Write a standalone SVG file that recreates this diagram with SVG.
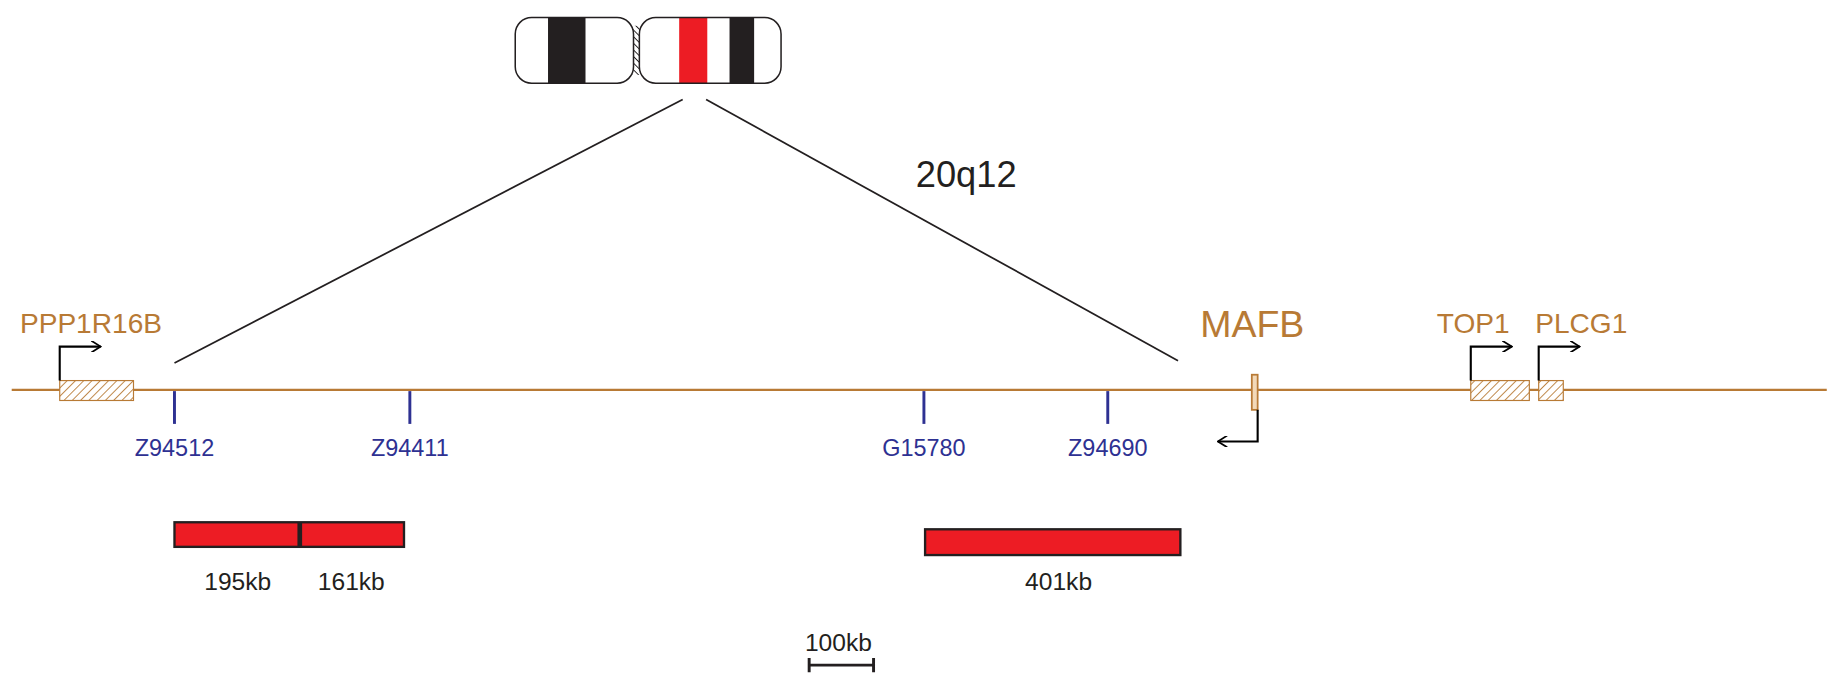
<svg xmlns="http://www.w3.org/2000/svg" width="1833" height="682" viewBox="0 0 1833 682">
<defs>
<pattern id="h" width="5" height="5" patternUnits="userSpaceOnUse" patternTransform="rotate(45)"><rect width="5" height="5" fill="#fff"/><line x1="0" y1="0" x2="0" y2="5" stroke="#b87a35" stroke-width="1.5"/></pattern>
<pattern id="hk" width="4" height="4" patternUnits="userSpaceOnUse" patternTransform="rotate(-45)"><rect width="4" height="4" fill="#fff"/><line x1="0" y1="0" x2="0" y2="4" stroke="#231f20" stroke-width="1.6"/></pattern>
<marker id="ar" viewBox="0 0 10 10" refX="9" refY="5" markerWidth="10" markerHeight="10" markerUnits="userSpaceOnUse" orient="auto"><path d="M1,0 L9,5 L1,10" fill="none" stroke="#000" stroke-width="1.5"/></marker>
<clipPath id="cl"><rect x="440" y="15" width="101" height="56" rx="14"/></clipPath>
<clipPath id="cr"><rect x="546" y="15" width="121" height="56" rx="14"/></clipPath>
</defs>
<style>
.g{font-family:"Liberation Sans",Arial,sans-serif;fill:#b87a35;font-size:24px}
.m{font-family:"Liberation Sans",Arial,sans-serif;fill:#2e3192;font-size:20px;text-anchor:middle}
.k{font-family:"Liberation Sans",Arial,sans-serif;fill:#231f20;font-size:21px;text-anchor:middle}
.hb{fill:url(#h);stroke:#b87a35;stroke-width:1}
.tk{stroke:#2e3192;stroke-width:2.5}
.pr{fill:none;stroke:#000;stroke-width:1.8}
</style>
<g transform="scale(1.171)">
<g id="chromosome">
<rect x="530" y="22" width="26" height="42" fill="url(#hk)"/>
<g clip-path="url(#cl)"><rect x="440" y="15" width="101" height="56" fill="#fff"/><rect x="468" y="15" width="32" height="56" fill="#231f20"/></g>
<rect x="440" y="15" width="101" height="56" rx="14" fill="none" stroke="#231f20" stroke-width="1.3"/>
<g clip-path="url(#cr)"><rect x="546" y="15" width="121" height="56" fill="#fff"/><rect x="580" y="15" width="24" height="56" fill="#ed1c24"/><rect x="623" y="15" width="21" height="56" fill="#231f20"/></g>
<rect x="546" y="15" width="121" height="56" rx="14" fill="none" stroke="#231f20" stroke-width="1.3"/>
<text x="782" y="160" class="k" style="text-anchor:start;font-size:31px">20q12</text>
</g>
<g id="connectors" stroke="#231f20" stroke-width="1.5">
<line x1="583" y1="85" x2="149" y2="310"/>
<line x1="603" y1="85" x2="1006" y2="308"/>
</g>
<g id="axis">
<line x1="10" y1="333" x2="1560" y2="333" stroke="#b87a35" stroke-width="2"/>
</g>
<g id="PPP1R16B">
<rect x="51" y="325" width="63" height="17" class="hb"/>
<path d="M51,325 V296 H86" class="pr" marker-end="url(#ar)"/>
<text x="17" y="284" class="g">PPP1R16B</text>
</g>
<g id="MAFB">
<rect x="1069" y="320" width="5" height="30" fill="#f3d9b8" stroke="#b87a35" stroke-width="1.5"/>
<path d="M1074,350 V377 H1040" class="pr" marker-end="url(#ar)"/>
<text x="1025" y="288" class="g" style="font-size:32px">MAFB</text>
</g>
<g id="TOP1">
<rect x="1256" y="325" width="50" height="17" class="hb"/>
<path d="M1256,325 V296 H1291" class="pr" marker-end="url(#ar)"/>
<text x="1227" y="284" class="g">TOP1</text>
</g>
<g id="PLCG1">
<rect x="1314" y="325" width="21" height="17" class="hb"/>
<path d="M1314,325 V296 H1349" class="pr" marker-end="url(#ar)"/>
<text x="1311" y="284" class="g">PLCG1</text>
</g>
<g id="markers">
<line x1="149" y1="334" x2="149" y2="362" class="tk"/><text x="149" y="389" class="m">Z94512</text>
<line x1="350" y1="334" x2="350" y2="362" class="tk"/><text x="350" y="389" class="m">Z94411</text>
<line x1="789" y1="334" x2="789" y2="362" class="tk"/><text x="789" y="389" class="m">G15780</text>
<line x1="946" y1="334" x2="946" y2="362" class="tk"/><text x="946" y="389" class="m">Z94690</text>
</g>
<g id="deletions">
<rect x="149" y="446" width="196" height="21" fill="#ed1c24" stroke="#231f20" stroke-width="2"/>
<line x1="256" y1="446" x2="256" y2="467" stroke="#231f20" stroke-width="4"/>
<rect x="790" y="452" width="218" height="22" fill="#ed1c24" stroke="#231f20" stroke-width="2"/>
<text x="203" y="504" class="k">195kb</text>
<text x="300" y="504" class="k">161kb</text>
<text x="904" y="504" class="k">401kb</text>
</g>
<g id="scale">
<text x="716" y="556" class="k">100kb</text>
<path d="M691,568 H746 M691,562 V574 M746,562 V574" stroke="#231f20" stroke-width="2.5" fill="none"/>
</g>
</g>
</svg>
